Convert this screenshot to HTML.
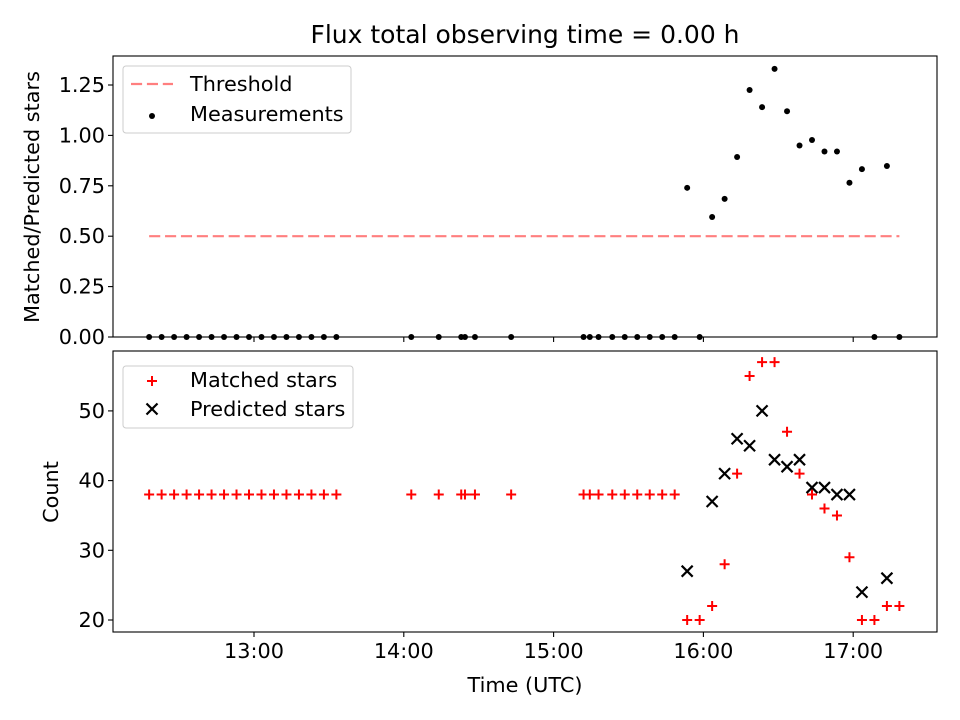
<!DOCTYPE html>
<html><head><meta charset="utf-8"><style>
html,body{margin:0;padding:0;background:#fff;}
svg{display:block;font-family:"DejaVu Sans","Liberation Sans",sans-serif;}
</style></head><body>
<svg id="chart" width="960" height="720" viewBox="0 0 960 720" xmlns="http://www.w3.org/2000/svg">
<rect width="960" height="720" fill="#fff"/>
<text x="525" y="43" font-size="25" text-anchor="middle" fill="#000">Flux total observing time = 0.00 h</text>
<g id="topPanel"></g>
<g id="bottomPanel"></g>
</svg>
<script>
// minutes since 12:00 UTC
const times = [18,23,28,33,38,43,48,53,58,63,68,73,78,83,88,93,
  123,134,143,144.5,148.5,163,
  192,194.5,198,203.5,208.5,213.5,218.5,223.5,228.5,
  233.5,238.5,243.5,248.5,253.5,258.5,263.5,268.5,273.5,278.5,283.5,288.5,293.5,298.5,303.5,308.5,313.5,318.5];
const ratios = [0,0,0,0,0,0,0,0,0,0,0,0,0,0,0,0,
  0,0,0,0,0,0,
  0,0,0,0,0,0,0,0,0,
  0.74,0,0.595,0.685,0.893,1.225,1.14,1.33,1.12,0.95,0.977,0.92,0.92,0.765,0.833,0,0.848,0];
const matched = [38,38,38,38,38,38,38,38,38,38,38,38,38,38,38,38,
  38,38,38,38,38,38,
  38,38,38,38,38,38,38,38,38,
  20,20,22,28,41,55,57,57,47,41,38,36,35,29,20,20,22,22];
const predicted = [null,null,null,null,null,null,null,null,null,null,null,null,null,null,null,null,
  null,null,null,null,null,null,
  null,null,null,null,null,null,null,null,null,
  27,null,37,41,46,45,50,43,42,43,39,39,38,38,24,null,26,null];
const threshold = 0.5;
const xTicks = [60,120,180,240,300];
const xTickLabels = ["13:00","14:00","15:00","16:00","17:00"];
const yTopTicks = [0,0.25,0.5,0.75,1.0,1.25];
const yBotTicks = [20,30,40,50];

const NS = "http://www.w3.org/2000/svg";
const L = 113, R = 937;
const T1 = 56, B1 = 337, T2 = 351, B2 = 632;
const FS = 20.8;
function xs(t){ return 254 + (t - 60) * 149.8 / 60; }
function yTop(v){ return 337 - v * 201.6; }
function yBot(v){ return 620 - (v - 20) * 6.97; }
function mk(tag, attrs, parent){ const e = document.createElementNS(NS, tag); for (const k in attrs) e.setAttribute(k, attrs[k]); parent.appendChild(e); return e; }

const topG = document.getElementById('topPanel');
const botG = document.getElementById('bottomPanel');

// ---- top panel ----
const thrLine = mk('line', {x1: xs(times[0]), x2: xs(times[times.length-1]), y1: yTop(threshold), y2: yTop(threshold), stroke: '#ff7f7f', 'stroke-width': 2.2, 'stroke-dasharray': '11.1,4.8'}, topG);


times.forEach((t, i) => {
  const c = mk('circle', {cx: xs(t), cy: yTop(ratios[i]), r: 3, fill: '#000'}, topG);
  
  
});
const f1 = mk('rect', {x: L, y: T1, width: R - L, height: B1 - T1, fill: 'none', stroke: '#000', 'stroke-width': 1.1}, topG);


yTopTicks.forEach(v => {
  const y = yTop(v);
  mk('line', {x1: L - 5, x2: L, y1: y, y2: y, stroke: '#000', 'stroke-width': 1.1}, topG);
  const tx = mk('text', {x: L - 8, y: y + 7, 'font-size': FS, 'text-anchor': 'end'}, topG);
  tx.textContent = v.toFixed(2);
  
  
});
xTicks.forEach(t => { mk('line', {x1: xs(t), x2: xs(t), y1: B1, y2: B1 + 5, stroke: '#000', 'stroke-width': 1.1}, topG); });
const yl1 = mk('text', {x: 0, y: 0, 'font-size': FS, 'text-anchor': 'middle', transform: 'translate(39,197) rotate(-90)'}, topG);
yl1.textContent = 'Matched/Predicted stars';


// legend top
const lg1 = mk('g', {}, topG);


mk('rect', {x: 123, y: 66, width: 228, height: 67, rx: 3, fill: '#fff', 'fill-opacity': 0.8, stroke: '#ccc', 'stroke-width': 1}, lg1);
mk('line', {x1: 131, x2: 173, y1: 84, y2: 84, stroke: '#ff7f7f', 'stroke-width': 2.2, 'stroke-dasharray': '11.1,4.8'}, lg1);
const lt1 = mk('text', {x: 190, y: 91, 'font-size': FS}, lg1); lt1.textContent = 'Threshold';
mk('circle', {cx: 152, cy: 116, r: 3, fill: '#000'}, lg1);
const lt2 = mk('text', {x: 190, y: 121, 'font-size': FS}, lg1); lt2.textContent = 'Measurements';

// ---- bottom panel ----
times.forEach((t, i) => {
  const x = xs(t), y = yBot(matched[i]);
  const p = mk('path', {d: `M${x-5},${y}H${x+5}M${x},${y-5}V${y+5}`, stroke: '#ff0000', 'stroke-width': 2, fill: 'none'}, botG);
  
  
});
times.forEach((t, i) => {
  if (predicted[i] === null) return;
  const x = xs(t), y = yBot(predicted[i]);
  const p = mk('path', {d: `M${x-5.5},${y-5.5}L${x+5.5},${y+5.5}M${x-5.5},${y+5.5}L${x+5.5},${y-5.5}`, stroke: '#000', 'stroke-width': 2.2, fill: 'none'}, botG);
  
  
});
const f2 = mk('rect', {x: L, y: T2, width: R - L, height: B2 - T2, fill: 'none', stroke: '#000', 'stroke-width': 1.1}, botG);


yBotTicks.forEach(v => {
  const y = yBot(v);
  mk('line', {x1: L - 5, x2: L, y1: y, y2: y, stroke: '#000', 'stroke-width': 1.1}, botG);
  const tx = mk('text', {x: L - 8, y: y + 7, 'font-size': FS, 'text-anchor': 'end'}, botG);
  tx.textContent = String(v);
  
  
});
xTicks.forEach((t, i) => {
  mk('line', {x1: xs(t), x2: xs(t), y1: B2, y2: B2 + 5, stroke: '#000', 'stroke-width': 1.1}, botG);
  const tx = mk('text', {x: xs(t), y: B2 + 26, 'font-size': FS, 'text-anchor': 'middle'}, botG);
  tx.textContent = xTickLabels[i];
  
  
});
const yl2 = mk('text', {x: 0, y: 0, 'font-size': FS, 'text-anchor': 'middle', transform: 'translate(58,492) rotate(-90)'}, botG);
yl2.textContent = 'Count';


const xl = mk('text', {x: 525, y: 692, 'font-size': FS, 'text-anchor': 'middle'}, botG);
xl.textContent = 'Time (UTC)';


// legend bottom
const lg2 = mk('g', {}, botG);


mk('rect', {x: 123, y: 366, width: 230, height: 62, rx: 3, fill: '#fff', 'fill-opacity': 0.8, stroke: '#ccc', 'stroke-width': 1}, lg2);
mk('path', {d: 'M147,381H157M152,376V386', stroke: '#ff0000', 'stroke-width': 2}, lg2);
const lt3 = mk('text', {x: 190, y: 387, 'font-size': FS}, lg2); lt3.textContent = 'Matched stars';
mk('path', {d: 'M146.5,403.5L157.5,414.5M146.5,414.5L157.5,403.5', stroke: '#000', 'stroke-width': 2.2}, lg2);
const lt4 = mk('text', {x: 190, y: 416, 'font-size': FS}, lg2); lt4.textContent = 'Predicted stars';
</script>
</body></html>
